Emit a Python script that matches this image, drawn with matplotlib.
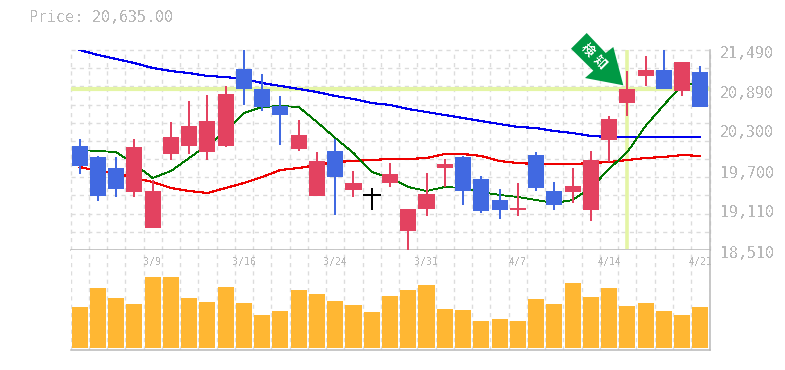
import numpy as np
import matplotlib
matplotlib.use("Agg")
import matplotlib.pyplot as plt
from matplotlib.patches import Polygon

plt.rcParams['font.family'] = ['DejaVu Sans Mono', 'Noto Sans CJK JP']
plt.rcParams['text.antialiased'] = False

# ==========================================
# Data
# ==========================================

opens = [20060, 19896, 19732, 19374, 18838, 19940, 20060, 19970, 20060, 21207,
         20909, 20656, 20015, 19315, 19985, 19404, 19330, 19508, 18793, 19121,
         19732, 19896, 19568, 19255, 19106, 19925, 19389, 19374, 19106, 20149,
         20700, 21103, 21192, 20879, 21162]
closes = [19762, 19315, 19419, 20045, 19389, 20194, 20358, 20432, 20834, 20909,
          20641, 20521, 20224, 19836, 19598, 19508, 19330, 19642, 19121, 19344,
          19791, 19389, 19091, 19106, 19136, 19434, 19181, 19464, 19851, 20462,
          20909, 21192, 20909, 21311, 20635]
highs = [20164, 19911, 19896, 20164, 19553, 20417, 20730, 20820, 20954, 21490,
         21132, 20805, 20447, 19970, 20164, 19687, 19434, 19806, 19121, 19657,
         19866, 19911, 19613, 19419, 19508, 19970, 19523, 19732, 19985, 20507,
         21177, 21401, 21490, 21311, 21252]
lows = [19642, 19240, 19300, 19300, 18838, 19851, 19940, 19851, 20045, 20671,
        20581, 20074, 19985, 19315, 19032, 19300, 19106, 19449, 18495, 19017,
        19449, 19181, 19061, 18972, 19017, 19389, 19106, 19210, 18942, 19821,
        20507, 20954, 20909, 20805, 20635]

ma_short = [20000, 19985, 19970, 19791, 19583, 19687, 19881, 20074, 20268, 20551,
            20641, 20656, 20641, 20417, 20179, 19955, 19672, 19583, 19449, 19389,
            19449, 19434, 19374, 19330, 19300, 19255, 19210, 19255, 19434, 19717,
            19970, 20358, 20671, 20969, 20998]
ma_mid = [19747, 19687, 19657, 19583, 19523, 19434, 19389, 19359, 19434, 19508,
          19598, 19702, 19732, 19776, 19821, 19836, 19851, 19866, 19866, 19881,
          19940, 19940, 19911, 19836, 19806, 19791, 19791, 19791, 19806, 19821,
          19851, 19881, 19896, 19925, 19911]
ma_long = [21490, 21416, 21356, 21296, 21222, 21177, 21147, 21103, 21088, 21058,
           20998, 20954, 20909, 20864, 20805, 20760, 20700, 20671, 20611, 20566,
           20521, 20477, 20432, 20387, 20343, 20328, 20283, 20253, 20209, 20194,
           20194, 20194, 20194, 20194, 20194]

volumes = [123, 180, 150, 132, 213, 213, 150, 138, 183, 135, 99, 111, 174, 162,
           141, 129, 108, 156, 174, 189, 117, 114, 81, 87, 81, 147, 132, 195,
           153, 180, 126, 135, 111, 99, 123]

price_ticks = [21490, 20890, 20300, 19700, 19110, 18510]
price_labels = ["21,490", "20,890", "20,300", "19,700", "19,110", "18,510"]
date_pos = [4, 9, 14, 19, 24, 29, 34]
date_labels = ["3/9", "3/16", "3/24", "3/31", "4/7", "4/14", "4/21"]
signal_price = 20909
signal_pos = 30
last_price = "Price: 20,635.00"

UP = "#E34260"
DOWN = "#4169E1"
GRID = "#dcdcdc"
TEXT = "#b8b8b8"
PALE = "#E4F5A5"

W, H = 785, 370

# ==========================================
# Figure
# ==========================================

fig = plt.figure(figsize=(W / 100, H / 100), dpi=100, facecolor="white")


def pane(top, bottom):
    ax = fig.add_axes([70.5 / W, 1 - bottom / H, 639 / W, (bottom - top) / H])
    ax.set_xlim(0, 35)
    ax.set_xticks(range(36))
    ax.tick_params(length=0, labelbottom=False, labelleft=False)
    ax.grid(axis="x", color=GRID, linewidth=1, linestyle=(0, (3, 3)))
    ax.set_axisbelow(True)
    for side in ["left", "top"]:
        ax.spines[side].set_visible(False)
    for side in ["right", "bottom"]:
        ax.spines[side].set_color(TEXT)
        ax.spines[side].set_linewidth(1.1)
    return ax


ax = pane(50, 250)
vol = pane(250, 349.5)

x = np.arange(len(opens)) + 0.5

# ==========================================
# Price pane
# ==========================================

ax.set_ylim(18510, 21490)
ax.set_yticks(np.linspace(18510, 21490, 12))
ax.grid(axis="y", color=GRID, linewidth=1, linestyle=(0, (3, 3)))
for line in ax.get_xgridlines() + ax.get_ygridlines():
    line.set_clip_on(False)

ax.axhline(signal_price, color=PALE, linewidth=3, zorder=1)
ax.plot([signal_pos + 0.5] * 2, [18530, 21490], color=PALE, linewidth=2.6, zorder=1,
        solid_capstyle="butt")

for series, color, lw in [(ma_long, "#0000ee", 0.8), (ma_mid, "#ee0000", 0.8),
                          (ma_short, "#007700", 0.6)]:
    ax.plot(x, series, color=color, linewidth=lw, antialiased=False, zorder=2)

for i in range(len(opens)):
    o, c = opens[i], closes[i]
    if o == c:
        color = "black"
    elif c > o:
        color = UP
    else:
        color = DOWN
    ax.plot([x[i], x[i]], [lows[i], highs[i]], color=color, linewidth=1.2,
            solid_capstyle="butt", antialiased=False, clip_on=False, zorder=3)
    if o == c:
        ax.plot([x[i] - 0.44, x[i] + 0.44], [c, c], color=color, linewidth=1.2,
                antialiased=False, zorder=3)
    else:
        ax.bar(x[i], abs(c - o), bottom=min(o, c), width=0.88, color=color, zorder=4)

for value, label in zip(price_ticks, price_labels):
    ax.annotate(label, xy=(1, value), xycoords=("axes fraction", "data"),
                xytext=(10.5, -3), textcoords="offset pixels", color=TEXT,
                fontsize=10.8, va="center", ha="left", annotation_clip=False)

# ==========================================
# Volume pane
# ==========================================

vol.set_ylim(-6, 294)
vol.set_yticks([])
vol.bar(x, volumes, width=0.88, color="#FFB733", zorder=3)

for pos, label in zip(date_pos, date_labels):
    vol.text(pos + 0.5, 258, label, color=TEXT, fontsize=7.2, ha="center", va="center",
             zorder=4, clip_on=False)

# ==========================================
# Signal arrow
# ==========================================

arrow_px = [(586.7, 33), (605.7, 53), (613.3, 47), (623.3, 85.3),
            (585, 78), (593.3, 70.7), (571, 48.7)]
fig.add_artist(Polygon([(px / W, 1 - py / H) for px, py in arrow_px],
                       closed=True, facecolor="#009944", edgecolor="none",
                       transform=fig.transFigure, zorder=6))
for ch, px, py in [("検", 587.7, 49.7), ("知", 600, 62.3)]:
    fig.text(px / W, 1 - py / H, ch, color="white", fontsize=9, fontweight="bold",
             rotation=-45, ha="center", va="center", zorder=7,
             family=['Noto Sans CJK JP', 'DejaVu Sans'])

fig.text(29 / W, 1 - 18 / H, last_price, color=TEXT, fontsize=10.8, ha="left", va="center")

fig.savefig("out.png", dpi=100)
